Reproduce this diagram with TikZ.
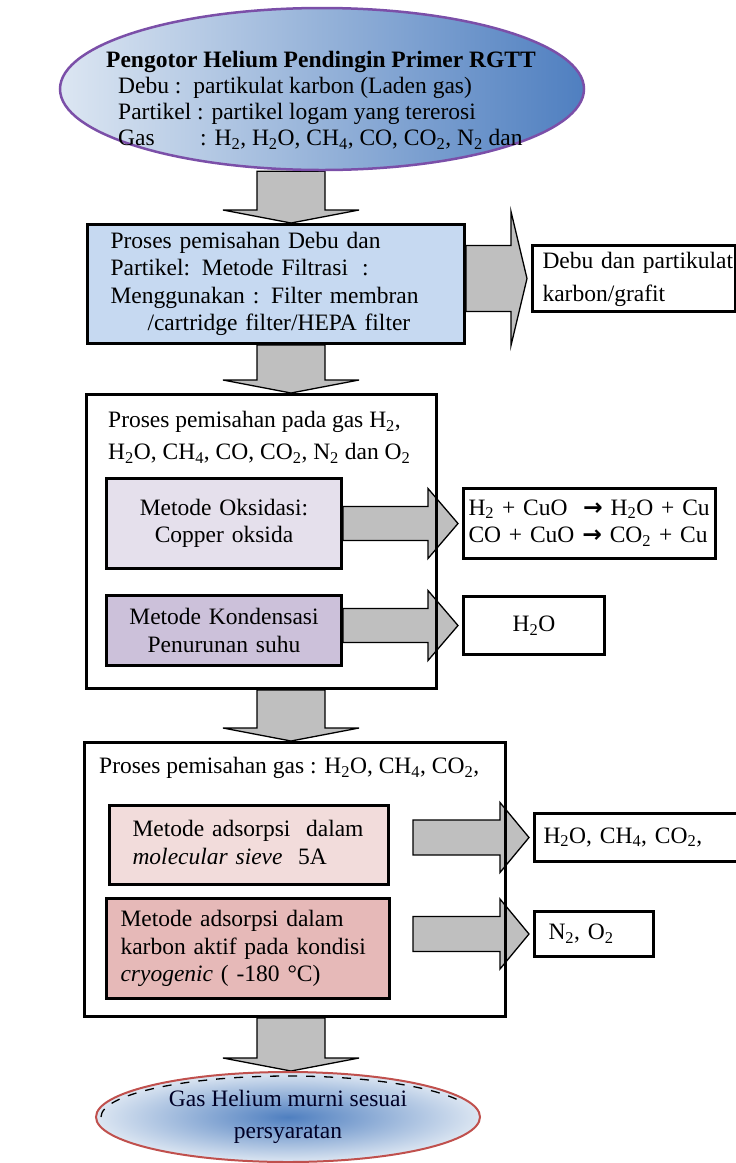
\documentclass[tikz,border=0pt]{standalone}
\usepackage{fontspec}
\setmainfont{Liberation Serif}
\newfontfamily\symfont{DejaVu Sans}
\usetikzlibrary{calc,positioning,shapes.geometric}
\definecolor{bluebox}{HTML}{C6D9F1}
\definecolor{lilac}{HTML}{E5E0EC}
\definecolor{lilacdk}{HTML}{CCC1DA}
\definecolor{rosa}{HTML}{F2DCDB}
\definecolor{rosadk}{HTML}{E6B9B8}
\definecolor{arrgrey}{HTML}{BFBFBF}
\definecolor{skyl}{HTML}{DCE6F2}
\definecolor{skyd}{HTML}{4F7FC0}
\definecolor{purp}{HTML}{7B4FA8}
\definecolor{brick}{HTML}{C0504D}
\pgfdeclarelayer{back}
\pgfsetlayers{back,main}
% text block set #1 pt in from the left border of its box
\newcommand{\lines}[2]{\hspace*{#1pt}\begin{tabular}{@{}l@{}}#2\end{tabular}}
\newcommand{\yields}{{\symfont\bfseries →}}

\tikzset{
  box/.style={rectangle, draw, line width=3pt, anchor=north west, align=left, inner sep=0pt},
  txt/.style={anchor=west, align=left, inner sep=0pt},
  blockarrow/.style={draw, line width=1.3pt, fill=arrgrey, line join=miter}
}

% down arrow: #1 start, #2 tip
\newcommand{\downblock}[2]{%
  \draw[blockarrow] ($(#1)+(-34,0)$) -- ($(#2)+(-34,-13)$) -- ($(#2)+(-68,-13)$) -- (#2)
    -- ($(#2)+(68,-13)$) -- ($(#2)+(34,-13)$) -- ($(#1)+(34,0)$) -- cycle;}
% right arrow: #1 start, #2 tip, #3 shaft half, #4 head half, #5 head length
\newcommand{\rightblock}[5]{%
  \draw[blockarrow] ($(#1)+(0,-#3)$) -- ($(#2)+(-#5,-#3)$) -- ($(#2)+(-#5,-#4)$) -- (#2)
    -- ($(#2)+(-#5,#4)$) -- ($(#2)+(-#5,#3)$) -- ($(#1)+(0,#3)$) -- cycle;}

\begin{document}
\begin{tikzpicture}[x=1pt, y=-1pt, font=\fontsize{23.5}{27.5}\selectfont]
\useasboundingbox (0,0) rectangle (736,1163);

% top
\node[ellipse, draw=purp, line width=2.5pt, left color=skyl, right color=skyd,
  minimum width=524pt, minimum height=162pt, inner sep=0pt] (top) at (322,89) {};
\node[txt, font=\fontsize{23.5}{26}\selectfont] (toptxt) at (106,100)
  {\textbf{Pengotor Helium Pendingin Primer RGTT}\\
   \hspace*{12pt}Debu :\ \ partikulat karbon (Laden gas)\\
   \hspace*{12pt}Partikel : partikel logam yang tererosi\\
   \hspace*{12pt}\makebox[82pt][l]{Gas}: H\textsubscript{2}, H\textsubscript{2}O, CH\textsubscript{4}, CO, CO\textsubscript{2}, N\textsubscript{2} dan};

% filtrasi
\node[box, fill=bluebox, text width=377pt, minimum height=119pt] (filt) at (86,223)
  {\lines{23}{Proses pemisahan Debu dan\\
   Partikel: Metode Filtrasi\hspace{14pt}:\\
   Menggunakan : Filter membran\\
   \hspace*{37pt}/cartridge filter/HEPA filter}};
\node[box, font=\fontsize{23.5}{33}\selectfont, text width=203pt, minimum height=64pt] (dust) at (531,244)
  {\lines{10}{Debu dan partikulat\\karbon/grafit}};

% gas H2 ... O2
\node[box, minimum width=350pt, minimum height=294pt] (gas) at (85,393) {};
\node[txt, font=\fontsize{23.5}{32}\selectfont] (gastxt) at (108,437)
  {Proses pemisahan pada gas H\textsubscript{2},\\
   H\textsubscript{2}O, CH\textsubscript{4}, CO, CO\textsubscript{2}, N\textsubscript{2} dan O\textsubscript{2}};
\node[box, fill=lilac, align=center, text width=235pt, minimum height=90pt] (oks) at (105,477)
  {Metode Oksidasi:\\Copper oksida};
\node[box, fill=lilacdk, align=center, text width=235pt, minimum height=70pt] (kond) at (105,594)
  {Metode Kondensasi\\Penurunan suhu};
\node[box, text width=252pt, minimum height=70pt] (rox) at (462,487)
  {\lines{5}{H\textsubscript{2} + CuO\ \ \yields\ H\textsubscript{2}O + Cu\\CO + CuO \yields\ CO\textsubscript{2} + Cu}};
\node[box, align=center, text width=141pt, minimum height=58pt] (rh2o) at (462,595)
  {H\textsubscript{2}O};

% adsorpsi
\node[box, minimum width=421pt, minimum height=274pt] (ads) at (83,741) {};
\node[txt] (adstxt) at (99,768)
  {Proses pemisahan gas : H\textsubscript{2}O, CH\textsubscript{4}, CO\textsubscript{2},};
\node[box, fill=rosa, text width=279pt, minimum height=79pt] (sieve) at (108,804)
  {\lines{23}{Metode adsorpsi\ \ dalam\\\textit{molecular sieve}\ \ 5A}};
\node[box, fill=rosadk, text width=283pt, minimum height=100pt] (cryo) at (105,897)
  {\lines{14}{Metode adsorpsi dalam\\karbon aktif pada kondisi\\\textit{cryogenic} ( -180 °C)}};
\node[box, text width=220pt, minimum height=48pt] (rsieve) at (533,812)
  {\lines{9}{H\textsubscript{2}O, CH\textsubscript{4}, CO\textsubscript{2},}};
\node[box, text width=119pt, minimum height=45pt] (rn2) at (533,910)
  {\lines{14}{N\textsubscript{2}, O\textsubscript{2}}};

% bottom
\node[ellipse, draw=brick, line width=2pt, inner color=skyd, outer color=skyl,
  minimum width=384pt, minimum height=90pt, inner sep=0pt] (pure) at (288,1117) {};
\draw[line width=1.3pt, dash pattern=on 9pt off 9pt]
  ($(pure.center)+(-187,0)$) arc[start angle=180, end angle=335, x radius=187, y radius=41];
\node[align=center, text=black!85!blue] (puretxt) at (288,1117)
  {Gas Helium murni sesuai\\[4pt]persyaratan};

% arrows
\coordinate (axis) at (291,0);
\begin{pgfonlayer}{back}
\foreach \a/\b [count=\i] in {top/filt, filt/gas, gas/ads, ads/pure} {
  \coordinate (ds\i) at (axis |- \a.south);
  \coordinate (de\i) at (axis |- \b.north);
  \downblock{ds\i}{de\i}
}
\foreach \a/\b/\gap/\sh/\hh/\hl in {filt/dust/0/33/67/16, oks/rox/0/17/35/30, kond/rh2o/0/17/35/30,
    sieve/rsieve/23/17.5/35/29, cryo/rn2/22/17.5/35/29} {
  \coordinate (rb) at (\a.east |- \b.west);
  \coordinate (rs) at ($(rb)+(\gap,0)$);
  \coordinate (rt) at ($(\b.west)+(-4,0)$);
  \rightblock{rs}{rt}{\sh}{\hh}{\hl}
}
\end{pgfonlayer}
\end{tikzpicture}
\end{document}
